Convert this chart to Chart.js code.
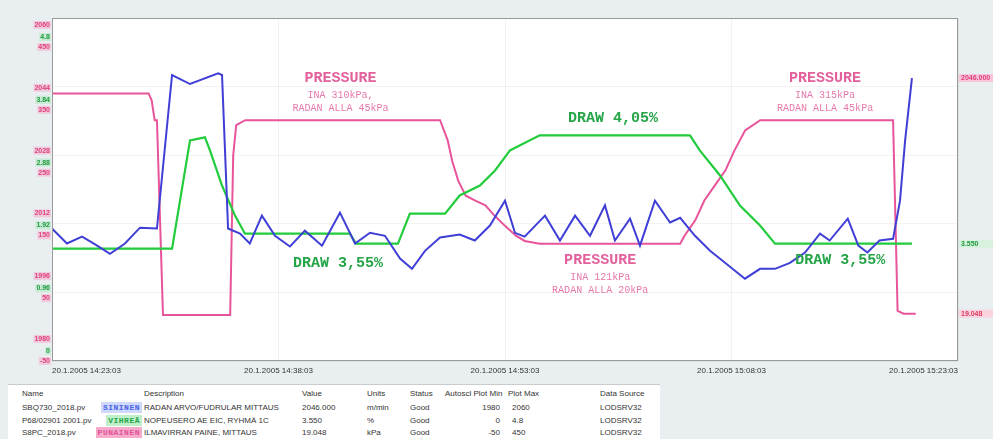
<!DOCTYPE html>
<html>
<head>
<meta charset="utf-8">
<title>Trend</title>
<script src="https://cdn.jsdelivr.net/npm/chart.js@4.4.0/dist/chart.umd.min.js"></script>
<style>
  body { margin: 0; width: 993px; height: 439px; overflow: hidden; background: #e9eef0; font-family: "Liberation Sans", Arial, sans-serif; }
  #wrap { position: relative; width: 993px; height: 382px; }
  #table { position: absolute; left: 8px; top: 384px; width: 652px; height: 55px; background: #fff; border-top: 1px solid #c8cccc; font-size: 8px; color: #333; }
  #table div { position: absolute; white-space: nowrap; line-height: 11px; }
  .tag { padding: 0 2px; font-family: "Liberation Mono", monospace; font-weight: bold; letter-spacing: 0.5px; }
</style>
</head>
<body>
<div id="wrap"><canvas id="chart"></canvas></div>
<div id="table"></div>
<script>
// ========== data ==========
const timeLabels = ['20.1.2005 14:23:03', '20.1.2005 14:38:03', '20.1.2005 14:53:03', '20.1.2005 15:08:03', '20.1.2005 15:23:03'];

// minutes from 14:23:03
const blueTimes = [0, 0.99, 1.99, 2.91, 3.84, 4.83, 5.83, 6.95, 7.95, 9.14, 11.0, 11.26, 11.66, 12.45, 13.1, 13.9,
  14.77, 15.76, 16.75, 17.88, 19.07, 20.07, 21.06, 22.05, 23.05, 23.84, 24.7, 25.7, 27.0, 28.0, 29.0, 30.0,
  30.66, 31.3, 32.65, 33.64, 34.64, 35.63, 36.62, 37.28, 38.28, 38.94, 39.93, 40.93, 41.6, 42.58, 43.58, 44.57,
  45.89, 46.89, 47.88, 48.87, 49.87, 50.86, 51.5, 52.7, 53.4, 54.0, 54.8, 55.7, 56.16, 56.5, 56.95];
const blueValues = [2010.9, 2007.4, 2009.0, 2007.1, 2005.0, 2007.4, 2011.1, 2010.9, 2046.7, 2044.6, 2047.1, 2046.7, 2010.9, 2009.7, 2007.4, 2013.9,
  2009.2, 2006.7, 2010.4, 2006.9, 2014.6, 2007.4, 2009.9, 2009.2, 2003.9, 2001.5, 2005.7, 2008.8, 2009.5, 2008.1, 2011.6, 2017.4,
  2009.9, 2009.0, 2013.9, 2008.1, 2013.9, 2009.2, 2016.3, 2008.1, 2013.2, 2006.9, 2017.4, 2012.3, 2013.4, 2009.2, 2005.7, 2002.9,
  1999.2, 2001.5, 2001.5, 2002.9, 2005.3, 2009.7, 2008.1, 2013.2, 2006.9, 2005.3, 2008.1, 2008.5, 2017.4, 2031.5, 2046.0];

const greenTimes = [0, 7.95, 9.14, 10.13, 10.46, 11.26, 12.12, 12.78, 19.73, 20.13, 22.91, 23.7, 26.03, 27.0, 28.34, 29.34,
  30.33, 31.0, 32.3, 42.25, 42.9, 44.24, 45.56, 46.89, 47.88, 56.95];
const greenValues = [1.572, 1.572, 3.088, 3.130, 2.947, 2.456, 2.035, 1.782, 1.782, 1.642, 1.642, 2.063, 2.063, 2.316, 2.456, 2.667,
  2.947, 3.018, 3.158, 3.158, 2.947, 2.596, 2.175, 1.895, 1.642, 1.642];

const pinkTimes = [0, 6.4, 6.6, 6.8, 6.95, 7.35, 11.8, 12.0, 12.2, 12.8, 25.7, 26.2, 26.5, 26.9, 27.4, 28.0,
  28.7, 29.3, 30.0, 30.7, 31.3, 32.3, 41.6, 41.9, 42.6, 43.2, 43.9, 44.6, 45.2, 45.9, 46.9, 55.7, 56.0, 56.4, 57.2];
const pinkValues = [340, 340, 330, 301, 301, 17, 17, 250, 294, 301, 301, 272, 242, 213, 191, 184,
  177, 162, 147, 133, 125, 121, 121, 133, 155, 184, 206, 228, 257, 286, 301, 301, 23, 19, 19.048];

const blueTicks = [1980, 1996, 2012, 2028, 2044, 2060];
const greenTicks = [0, 0.96, 1.92, 2.88, 3.84, 4.8];
const pinkTicks = [-50, 50, 150, 250, 350, 450];

// table below the chart
const rowNames = ['SBQ730_2018.pv', 'P68/02901 2001.pv', 'S8PC_2018.pv'];
const rowTags = ['SININEN', 'VIHREÄ', 'PUNAINEN'];
const rowDescs = ['RADAN ARVO/FUDRULAR MITTAUS', 'NOPEUSERO AE EIC, RYHMÄ 1C', 'ILMAVIRRAN PAINE, MITTAUS'];
const rowValues = ['2046.000', '3.550', '19.048'];
const rowUnits = ['m/min', '%', 'kPa'];
const rowStatus = ['Good', 'Good', 'Good'];
const rowMin = ['1980', '0', '-50'];
const rowMax = ['2060', '4.8', '450'];
const rowSource = ['LODSRV32', 'LODSRV32', 'LODSRV32'];

// hand written notes on the print
const notes = [
  { axis: 'yPink', t: 19.1, v: 362, color: '#e2609c', lines: ['PRESSURE', 'INA 310kPa,', 'RADAN ALLA 45kPa'] },
  { axis: 'yPink', t: 51.2, v: 362, color: '#e2609c', lines: ['PRESSURE', 'INA 315kPa', 'RADAN ALLA 45kPa'] },
  { axis: 'yPink', t: 36.3, v: 97, color: '#e2609c', lines: ['PRESSURE', 'INA 121kPa', 'RADAN ALLA 20kPa'] },
  { axis: 'yGreen', t: 37.15, v: 3.40, color: '#25a548', lines: ['DRAW 4,05%'] },
  { axis: 'yGreen', t: 18.94, v: 1.37, color: '#25a548', lines: ['DRAW 3,55%'] },
  { axis: 'yGreen', t: 52.2, v: 1.41, color: '#25a548', lines: ['DRAW 3,55%'] }
];

const BLUE = '#3f3fd6';
const GREEN = '#22cc3c';
const PINK = '#e8549a';

function pts(times, values) {
  return times.map((t, i) => ({ x: t, y: values[i] }));
}

// ----- background + frame -----
const frame = {
  id: 'frame',
  beforeDraw(chart) {
    const { ctx, chartArea: a } = chart;
    ctx.save();
    ctx.fillStyle = '#e9eef0';
    ctx.fillRect(0, 0, chart.width, chart.height);
    ctx.fillStyle = '#ffffff';
    ctx.fillRect(a.left, a.top, a.right - a.left, a.bottom - a.top);
    ctx.restore();
  },
  afterDraw(chart) {
    const { ctx, chartArea: a } = chart;
    ctx.save();
    ctx.strokeStyle = '#9a9a9a';
    ctx.lineWidth = 1;
    ctx.strokeRect(a.left + 0.5, a.top + 0.5, a.right - a.left - 1, a.bottom - a.top - 1);
    ctx.restore();
  }
};

// ----- stacked left tick labels (three hidden label scales) -----
const leftLabels = {
  id: 'leftLabels',
  afterDraw(chart) {
    const ctx = chart.ctx;
    const x = chart.chartArea.left - 2;
    const cols = [
      { axis: 'lBlue', ticks: blueTicks, color: '#e0407e', bg: 'rgba(246,170,200,0.5)' },
      { axis: 'lGreen', ticks: greenTicks, color: '#1f9a3e', bg: 'rgba(170,230,185,0.5)' },
      { axis: 'lPink', ticks: pinkTicks, color: '#e0407e', bg: 'rgba(246,170,200,0.5)' }
    ];
    ctx.save();
    ctx.font = 'bold 7px "Liberation Sans", Arial, sans-serif';
    ctx.textAlign = 'right';
    ctx.textBaseline = 'middle';
    cols.forEach(c => {
      const scale = chart.scales[c.axis];
      c.ticks.forEach(v => {
        const y = scale.getPixelForValue(v);
        const text = String(v);
        const w = ctx.measureText(text).width;
        ctx.fillStyle = c.bg;
        ctx.fillRect(x - w - 1, y - 4, w + 2, 8);
        ctx.fillStyle = c.color;
        ctx.fillText(text, x, y);
      });
    });
    ctx.restore();
  }
};

// ----- notes written on the chart -----
const notesPlugin = {
  id: 'notes',
  afterDatasetsDraw(chart) {
    const ctx = chart.ctx;
    ctx.save();
    ctx.textAlign = 'center';
    ctx.textBaseline = 'middle';
    notes.forEach(n => {
      const x = chart.scales.x.getPixelForValue(n.t);
      const y = chart.scales[n.axis].getPixelForValue(n.v);
      n.lines.forEach((line, i) => {
        ctx.fillStyle = n.color;
        if (i === 0) {
          ctx.font = 'bold 15px "Liberation Mono", monospace';
          ctx.fillText(line, x, y);
        } else {
          ctx.globalAlpha = 0.85;
          ctx.font = '10px "Liberation Mono", monospace';
          ctx.fillText(line, x, y + 4 + 13 * i);
          ctx.globalAlpha = 1;
        }
      });
    });
    ctx.restore();
  }
};

// ----- current value markers at the right -----
const markers = {
  id: 'markers',
  afterDraw(chart) {
    const ctx = chart.ctx;
    const a = chart.chartArea;
    const marks = [
      { axis: 'yBlue', v: blueValues[blueValues.length - 1], text: rowValues[0], color: '#e0407e', bg: '#f8c4da' },
      { axis: 'yGreen', v: greenValues[greenValues.length - 1], text: rowValues[1], color: '#1f9a3e', bg: '#d6f2dc' },
      { axis: 'yPink', v: pinkValues[pinkValues.length - 1], text: rowValues[2], color: '#e03a62', bg: '#f9d3de' }
    ];
    ctx.save();
    ctx.font = 'bold 7px "Liberation Sans", Arial, sans-serif';
    ctx.textBaseline = 'middle';
    ctx.textAlign = 'left';
    marks.forEach(m => {
      const y = chart.scales[m.axis].getPixelForValue(m.v);
      ctx.fillStyle = m.bg;
      ctx.fillRect(a.right + 1, y - 4, chart.width - a.right, 8);
      ctx.fillStyle = m.color;
      ctx.fillText(m.text, a.right + 3, y);
    });
    ctx.restore();
  }
};

const chart = document.getElementById('chart').getContext('2d');

new Chart(chart, {
  type: 'line',
  data: {
    datasets: [
      { label: 'SININEN', data: pts(blueTimes, blueValues), borderColor: BLUE, borderWidth: 2, yAxisID: 'yBlue' },
      { label: 'VIHREÄ', data: pts(greenTimes, greenValues), borderColor: GREEN, borderWidth: 2.2, yAxisID: 'yGreen' },
      { label: 'PUNAINEN', data: pts(pinkTimes, pinkValues), borderColor: PINK, borderWidth: 2, yAxisID: 'yPink' }
    ]
  },
  options: {
    responsive: true,
    maintainAspectRatio: false,
    animation: false,
    elements: { point: { radius: 0 }, line: { tension: 0 } },
    layout: { padding: { left: 52, right: 35, top: 18, bottom: 2 } },
    plugins: { legend: { display: false }, tooltip: { enabled: false } },
    scales: {
      x: {
        type: 'linear',
        min: 0,
        max: 60,
        grid: { color: 'rgba(0,0,0,0.05)', drawTicks: false },
        border: { display: false },
        ticks: {
          stepSize: 15,
          align: 'inner',
          maxRotation: 0,
          autoSkip: false,
          padding: 5,
          color: '#333',
          font: { size: 8 },
          callback: v => timeLabels[v / 15]
        },
        afterFit: s => { s.height = 19; }
      },
      yBlue: { type: 'linear', axis: 'y', min: 1980, max: 2060, display: false },
      yGreen: { type: 'linear', axis: 'y', min: 0, max: 4.8, display: false },
      yPink: {
        type: 'linear',
        axis: 'y',
        min: -50,
        max: 450,
        position: 'left',
        grid: { color: 'rgba(0,0,0,0.05)', drawTicks: false },
        border: { display: false },
        ticks: { display: false },
        afterBuildTicks: s => { s.ticks = pinkTicks.map(v => ({ value: v })); },
        afterFit: s => { s.width = 0; }
      },
      // label columns, shifted like in the print
      lBlue: { type: 'linear', axis: 'y', position: 'left', min: 1974.38, max: 2061.79, display: false },
      lGreen: { type: 'linear', axis: 'y', position: 'left', min: -0.153, max: 5.091, display: false },
      lPink: { type: 'linear', axis: 'y', position: 'left', min: -50, max: 496.3, display: false }
    }
  },
  plugins: [frame, leftLabels, notesPlugin, markers]
});

// ========== table ==========
const table = document.getElementById('table');
const tagStyles = [
  { color: '#4a62e6', background: '#cdd8fb' },
  { color: '#24a548', background: '#bff0c9' },
  { color: '#e2529a', background: '#f6abcb' }
];

function cell(text, left, top, extra) {
  const d = document.createElement('div');
  d.textContent = text;
  d.style.left = left + 'px';
  d.style.top = top + 'px';
  if (extra) Object.assign(d.style, extra);
  table.appendChild(d);
  return d;
}

const headerTop = 3;
cell('Name', 14, headerTop);
cell('Description', 136, headerTop);
cell('Value', 294, headerTop);
cell('Units', 359, headerTop);
cell('Status', 402, headerTop);
cell('Autoscl Plot Min', 437, headerTop);
cell('Plot Max', 500, headerTop);
cell('Data Source', 592, headerTop);

rowNames.forEach((name, i) => {
  const top = 17 + i * 12.5;
  cell(name, 14, top);
  const tag = cell(rowTags[i], 0, top, { right: (652 - 134) + 'px', left: 'auto' });
  tag.className = 'tag';
  Object.assign(tag.style, tagStyles[i]);
  cell(rowDescs[i], 136, top);
  cell(rowValues[i], 294, top);
  cell(rowUnits[i], 359, top);
  cell(rowStatus[i], 402, top);
  cell(rowMin[i], 452, top, { width: '40px', textAlign: 'right' });
  cell(rowMax[i], 504, top);
  cell(rowSource[i], 592, top);
});
</script>
</body>
</html>
